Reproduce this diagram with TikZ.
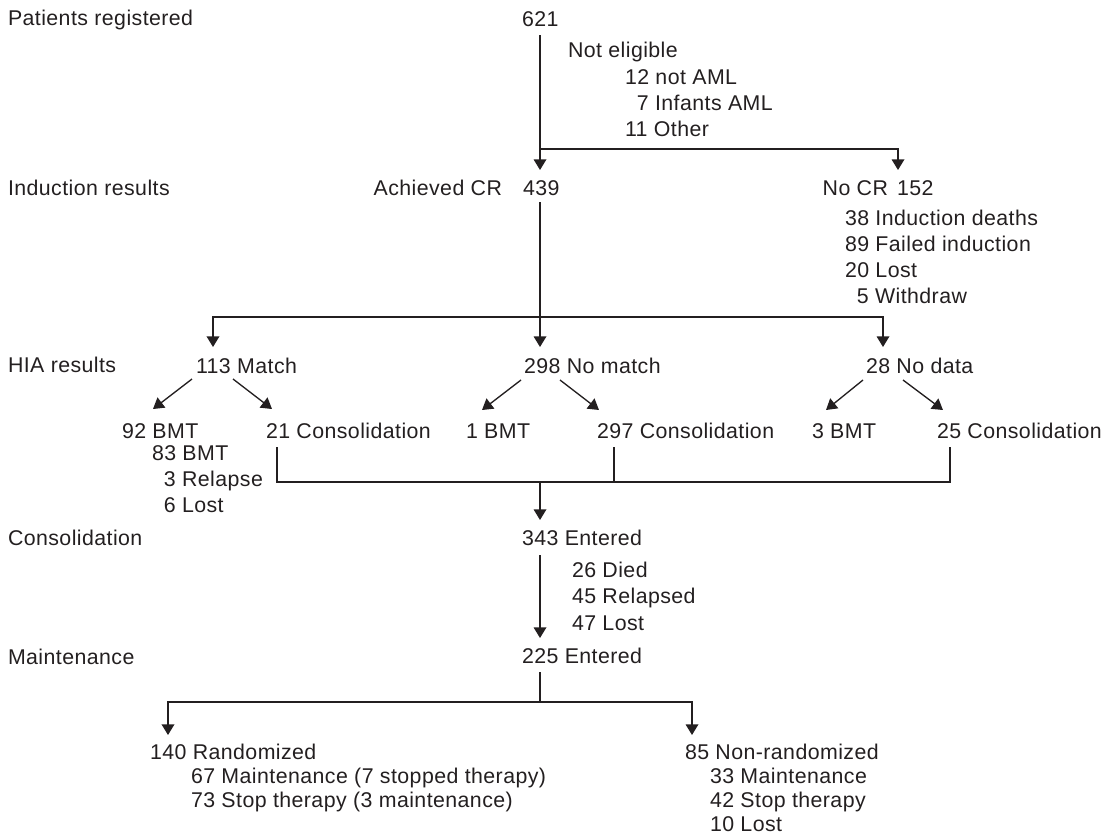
\documentclass[tikz,border=0pt]{standalone}
\usepackage{fontspec}
\setmainfont{Liberation Sans}[LetterSpace=2]
\usetikzlibrary{arrows.meta,calc}
\definecolor{ink}{HTML}{231F20}
\begin{document}
\begin{tikzpicture}[x=0.75pt,y=-0.75pt,
  txt/.style={anchor=base west,inner sep=0pt,outer sep=0pt,text=ink,font=\fontsize{16}{19}\selectfont},
  txte/.style={txt,anchor=base east},
  ln/.style={draw=ink,line width=1pt},
  arr/.style={ln,-{Triangle[width=9.5pt,length=8pt]}}]
\useasboundingbox (0,0) rectangle (1111,836);
% row labels
\node[txt] (lPat) at (8,25) {Patients registered};
\node[txt] (lInd) at (8,195) {Induction results};
\node[txt] (lHIA) at (8,372) {HIA results};
\node[txt] (lCon) at (8,545) {Consolidation};
\node[txt] (lMai) at (8,664) {Maintenance};
% top
\node[txt] (n621) at (522,26) {621};
\node[txt] (nNE) at (568,57) {Not eligible};
\node[txt] (nNE1) at (625,84) {12 not AML};
\node[txt] (nNE2) at (625,110) {\phantom{1}7 Infants AML};
\node[txt] (nNE3) at (625,136) {11 Other};
\node[txte] (nAch) at (502,195) {Achieved CR};
\node[txt] (n439) at (523,195) {439};
\node[txte] (nNoCR) at (888,195) {No CR};
\node[txt] (n152) at (897,195) {152};
\node[txt] (nF1) at (845,225) {38 Induction deaths};
\node[txt] (nF2) at (845,251) {89 Failed induction};
\node[txt] (nF3) at (845,277) {20 Lost};
\node[txt] (nF4) at (845,303) {\phantom{1}5 Withdraw};
% HIA
\node[txt] (nMatch) at (196,373) {113 Match};
\node[txt] (nNoMatch) at (524,373) {298 No match};
\node[txt] (nNoData) at (866,373) {28 No data};
\node[txt] (nB1) at (122,438) {92 BMT};
\node[txt] (nC1) at (266,438) {21 Consolidation};
\node[txt] (nB2) at (466,438) {1 BMT};
\node[txt] (nC2) at (597,438) {297 Consolidation};
\node[txt] (nB3) at (812,438) {3 BMT};
\node[txt] (nC3) at (937,438) {25 Consolidation};
\node[txt] (nB1a) at (152,460) {83 BMT};
\node[txt] (nB1b) at (152,486) {\phantom{8}3 Relapse};
\node[txt] (nB1c) at (152,512) {\phantom{8}6 Lost};
% consolidation / maintenance
\node[txt] (n343) at (522,545) {343 Entered};
\node[txt] (nD1) at (572,577) {26 Died};
\node[txt] (nD2) at (572,603) {45 Relapsed};
\node[txt] (nD3) at (572,630) {47 Lost};
\node[txt] (n225) at (522,663) {225 Entered};
\node[txt] (nRand) at (150,759) {140 Randomized};
\node[txt] (nR1) at (191,783) {67 Maintenance (7 stopped therapy)};
\node[txt] (nR2) at (191,807) {73 Stop therapy (3 maintenance)};
\node[txt] (nNon) at (685,759) {85 Non-randomized};
\node[txt] (nN1) at (710,783) {33 Maintenance};
\node[txt] (nN2) at (710,807) {42 Stop therapy};
\node[txt] (nN3) at (710,831) {10 Lost};
% junction coordinates
\coordinate (a0) at (540,35);
\coordinate (a1) at (540,170);
\coordinate (a2) at (540,149);
\coordinate (a3) at (898,170);
\coordinate (b0) at (540,202);
\coordinate (b1) at (540,347);
\coordinate (b2) at (540,317);
\coordinate (bL) at (213,347);
\coordinate (bR) at (883,347);
\coordinate (m0) at (192,379); \coordinate (m1) at (153,409);
\coordinate (m2) at (233,379); \coordinate (m3) at (272,409);
\coordinate (p0) at (521,380); \coordinate (p1) at (482,410);
\coordinate (p2) at (560,380); \coordinate (p3) at (599,410);
\coordinate (q0) at (863,380); \coordinate (q1) at (826,410);
\coordinate (q2) at (903,380); \coordinate (q3) at (943,410);
\coordinate (c1) at (277,447); \coordinate (c2) at (614,447); \coordinate (c3) at (950,447);
\coordinate (cj) at (540,482); \coordinate (ct) at (540,520);
\coordinate (d0) at (540,555); \coordinate (d1) at (540,638);
\coordinate (e0) at (540,672); \coordinate (e1) at (540,702);
\coordinate (eL) at (168,735); \coordinate (eR) at (692,735);
% connectors
\draw[arr] (a0) -- (a1);
\draw[arr] (a2) -| (a3);
\draw[arr] (b0) -- (b1);
\draw[arr] (b2) -| (bL);
\draw[arr] (b2) -| (bR);
\draw[arr] (m0) -- (m1);
\draw[arr] (m2) -- (m3);
\draw[arr] (p0) -- (p1);
\draw[arr] (p2) -- (p3);
\draw[arr] (q0) -- (q1);
\draw[arr] (q2) -- (q3);
\draw[ln] (c1) |- (cj);
\draw[ln] (c3) |- (cj);
\draw[ln] (c2) -- (c2 |- cj);
\draw[arr] (cj) -- (ct);
\draw[arr] (d0) -- (d1);
\draw[ln] (e0) -- (e1);
\draw[arr] (e1) -| (eL);
\draw[arr] (e1) -| (eR);
\end{tikzpicture}
\end{document}
